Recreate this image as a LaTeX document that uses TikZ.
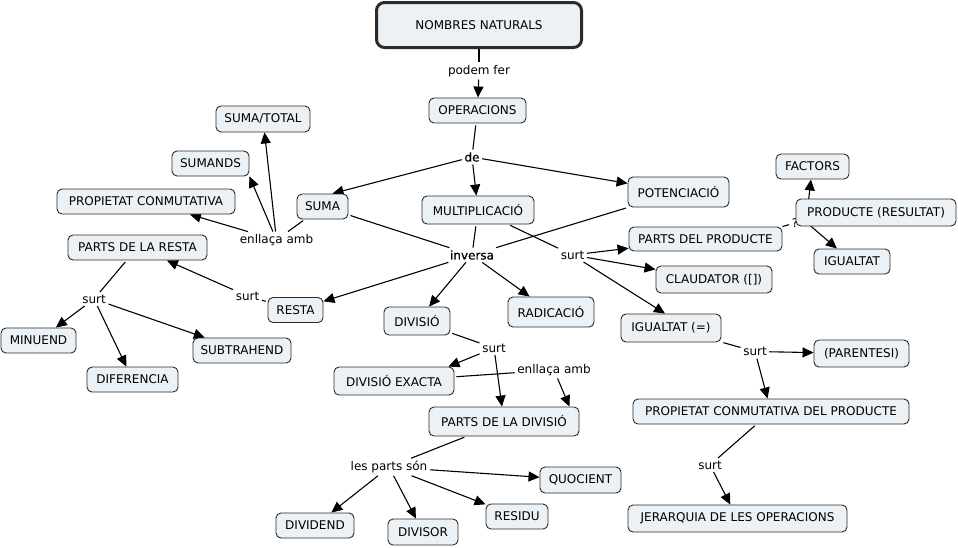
\documentclass[tikz,border=0pt]{standalone}
\usepackage{fontspec}
\setmainfont{DejaVu Sans}
\newfontfamily\fakeboldfam[FakeBold=0.6]{DejaVu Sans}
\usetikzlibrary{arrows.meta}
\definecolor{boxfill}{HTML}{EBF1F4}
\definecolor{boxline}{HTML}{2B2B2B}
\pgfdeclarelayer{back}
\pgfdeclarelayer{bg}
\pgfsetlayers{back,bg,main}
\begin{document}
\begin{tikzpicture}[x=1pt,y=-1pt,
  concept/.style={draw=boxline, fill=boxfill, rounded corners=5pt, line width=0.9pt, inner sep=0pt, font=\fontsize{12}{14}\selectfont, text=black},
  mainc/.style={concept, line width=3pt, rounded corners=8pt},
  lbl/.style={inner sep=2.5pt, font=\fontsize{12}{14}\selectfont, text=black},
  lblb/.style={lbl, font=\fakeboldfam\fontsize{12}{14}\selectfont},
  link/.style={line width=1.1pt, shorten <=2pt},
  plain/.style={line width=1.1pt},
  arr/.style={line width=1.1pt, -{Triangle[length=11pt,width=10pt]}},
]
\begin{pgfonlayer}{back}
\fill[white] (0,0) rectangle (958,547);
\end{pgfonlayer}
\useasboundingbox (0,0) rectangle (958,547);

% concepts
\node[mainc, minimum width=205pt, minimum height=45pt] (nn) at (479,25) {NOMBRES NATURALS};
\node[concept, minimum width=97pt, minimum height=25pt] (ops) at (477.5,110.5) {OPERACIONS};
\node[concept, minimum width=51pt, minimum height=25pt] (suma) at (322.5,206.5) {SUMA};
\node[concept, minimum width=112pt, minimum height=28pt] (mult) at (478,210) {MULTIPLICACIÓ};
\node[concept, minimum width=101pt, minimum height=30pt] (pot) at (678.5,192) {POTENCIACIÓ};
\node[concept, minimum width=94pt, minimum height=26pt] (sumtot) at (263,119) {SUMA/TOTAL};
\node[concept, minimum width=77pt, minimum height=25pt] (sumands) at (210.5,163.5) {SUMANDS};
\node[concept, minimum width=178pt, minimum height=25pt] (propc) at (146,201.5) {PROPIETAT CONMUTATIVA};
\node[concept, minimum width=139pt, minimum height=25pt] (pres) at (137.5,247.5) {PARTS DE LA RESTA};
\node[concept, minimum width=55pt, minimum height=25pt] (resta) at (295.5,310) {RESTA};
\node[concept, minimum width=75pt, minimum height=25pt] (minu) at (38.5,340.5) {MINUEND};
\node[concept, minimum width=91pt, minimum height=25pt] (dif) at (132.5,379.5) {DIFERENCIA};
\node[concept, minimum width=98pt, minimum height=25pt] (subt) at (242,350.5) {SUBTRAHEND};
\node[concept, minimum width=66pt, minimum height=28pt] (div) at (417,321) {DIVISIÓ};
\node[concept, minimum width=86pt, minimum height=30pt] (rad) at (551,312) {RADICACIÓ};
\node[concept, minimum width=153pt, minimum height=24pt] (pprod) at (705.5,239) {PARTS DEL PRODUCTE};
\node[concept, minimum width=116pt, minimum height=27pt] (claud) at (714,279.5) {CLAUDATOR ([])};
\node[concept, minimum width=100pt, minimum height=28pt] (igu) at (671,328) {IGUALTAT (=)};
\node[lbl] (lq) at (795,223) {?};
\coordinate (hub) at (806,222);
\node[concept, minimum width=160pt, minimum height=27pt] (prod) at (876,212.5) {PRODUCTE (RESULTAT)};
\node[concept, minimum width=73pt, minimum height=25pt] (fact) at (812.5,166.5) {FACTORS};
\node[concept, minimum width=76pt, minimum height=25pt] (igual) at (852,261.5) {IGUALTAT};
\node[concept, minimum width=120pt, minimum height=28pt] (dex) at (394,381) {DIVISIÓ EXACTA};
\node[concept, minimum width=150pt, minimum height=29pt] (pdiv) at (504,421.5) {PARTS DE LA DIVISIÓ};
\node[concept, minimum width=81pt, minimum height=26pt] (quoc) at (580.5,480) {QUOCIENT};
\node[concept, minimum width=78pt, minimum height=25pt] (divd) at (315,525.5) {DIVIDEND};
\node[concept, minimum width=70pt, minimum height=26pt] (divs) at (423,532) {DIVISOR};
\node[concept, minimum width=62pt, minimum height=25pt] (resid) at (517,516.5) {RESIDU};
\node[concept, minimum width=95pt, minimum height=27pt] (paren) at (861.5,353.5) {(PARENTESI)};
\node[concept, minimum width=276pt, minimum height=25pt] (pcdp) at (771,411.5) {PROPIETAT CONMUTATIVA DEL PRODUCTE};
\node[concept, minimum width=219pt, minimum height=27pt] (jer) at (737.5,518.5) {JERARQUIA DE LES OPERACIONS};

% linking phrases
\node[lbl] (lpf) at (479,71) {podem fer};
\node[lblb] (lde) at (472,157) {de};
\node[lbl] (lea1) at (276.5,240) {enllaça amb};
\node[lbl] (lsr) at (247.5,296) {surt};
\node[lbl] (lsl) at (94,299) {surt};
\node[lblb] (linv) at (472,255) {inversa};
\node[lbl] (lsm) at (572.5,255) {surt};
\node[lbl] (lsd) at (494,348) {surt};
\node[lbl] (lea2) at (554,370) {enllaça amb};
\node[lbl] (lps) at (389,467) {les parts són};
\node[lbl] (lsi) at (755,351.5) {surt};
\node[lbl] (lsp) at (710,465) {surt};

\begin{pgfonlayer}{bg}
\draw[plain] (nn) -- (lpf);
\draw[arr] (lpf) -- (ops);
\draw[link] (ops) -- (lde);
\draw[arr] (lde) -- ([xshift=10pt]suma.north);
\draw[arr] (lde) -- (mult);
\draw[arr] (lde) -- (pot);
\draw[link] (suma) -- (lea1);
\draw[arr] (lea1) -- (sumtot);
\draw[arr] (lea1) -- (sumands.south east);
\draw[arr] (lea1) -- (propc);
\draw[link] (resta) -- (lsr);
\draw[arr] (lsr) -- (pres);
\draw[link] (pres) -- (lsl);
\draw[arr] (lsl) -- (minu);
\draw[arr] (lsl) -- (dif);
\draw[arr] (lsl) -- (subt);
\draw[link] (suma) -- (linv);
\draw[link] (mult) -- (linv);
\draw[link] (pot) -- (linv);
\draw[arr] (linv) -- (resta);
\draw[arr] (linv) -- (div);
\draw[arr] (linv) -- (rad);
\draw[link] (mult) -- (lsm);
\draw[arr] (lsm) -- (pprod);
\draw[arr] (lsm) -- (claud);
\draw[arr] (lsm) -- ([xshift=-6pt]igu.north);
\draw[plain] (pprod.north east) -- (lq);
\draw[arr] (hub) -- (fact);
\draw[arr] (hub) -- (igual);
\draw[link] (div) -- (lsd);
\draw[arr] (lsd) -- ([xshift=-6pt]dex.north east);
\draw[arr] (lsd) -- (pdiv);
\draw[link] (dex) -- (lea2);
\draw[arr] (lea2) -- ([xshift=-10pt]pdiv.north east);
\draw[link] (pdiv) -- (lps);
\draw[arr] (lps) -- (quoc);
\draw[arr] (lps) -- (divd);
\draw[arr] (lps) -- (divs);
\draw[arr] (lps) -- (resid);
\draw[link] (igu) -- (lsi);
\draw[arr] (lsi) -- (paren);
\draw[arr] (lsi) -- (pcdp);
\draw[link] (pcdp) -- (lsp);
\draw[arr] (lsp) -- (jer);
\end{pgfonlayer}
\end{tikzpicture}
\end{document}
